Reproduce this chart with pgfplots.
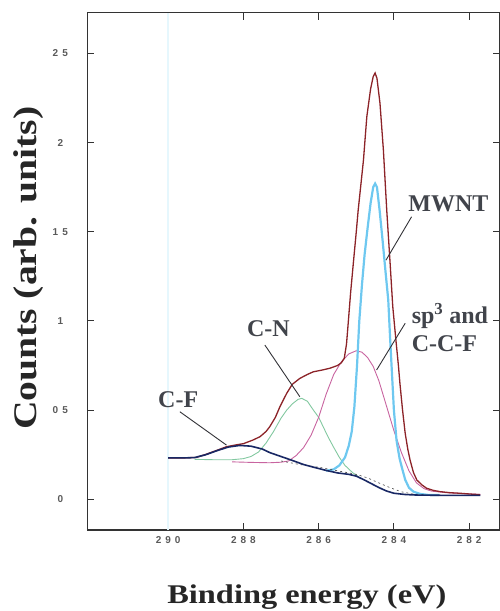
\documentclass[border=0pt]{standalone}
\usepackage{graphicx}
\usepackage{pgfplots}
\pgfplotsset{compat=1.18}
\usepackage{fontspec}
\setmainfont{Liberation Serif}
\setsansfont{Liberation Sans}
\definecolor{envc}{RGB}{140,35,40}
\definecolor{cyanc}{RGB}{110,200,240}
\definecolor{purc}{RGB}{200,100,160}
\definecolor{grnc}{RGB}{130,200,160}
\definecolor{cfc}{RGB}{25,40,100}
\definecolor{annc}{RGB}{65,68,75}
\definecolor{leadc}{RGB}{50,50,55}
\definecolor{tickc}{RGB}{90,90,90}
\begin{document}
\begin{tikzpicture}
\begin{axis}[
  at={(0,0)}, anchor=south west,
  width=412.7pt, height=517.3pt, scale only axis,
  x dir=reverse,
  xmin=281.18, xmax=292.15, ymin=-0.172, ymax=2.728,
  xtick={282,284,286,288,290},
  xticklabels={2\hspace{4pt}8\hspace{4pt}2,2\hspace{4pt}8\hspace{4pt}4,2\hspace{4pt}8\hspace{4pt}6,2\hspace{4pt}8\hspace{4pt}8,2\hspace{4pt}9\hspace{4pt}0},
  ytick={0,0.5,1,1.5,2,2.5},
  yticklabels={0,0\hspace{4pt}5,1,1\hspace{4pt}5,2,2\hspace{4pt}5},
  tick align=inside, tick pos=both,
  major tick length=7pt,
  tick style={color=black!80, line width=0.9pt},
  axis line style={color=black!80, line width=1.1pt},
  ticklabel style={font=\fontsize{10}{12}\sffamily\bfseries, text=tickc},
  xticklabel style={yshift=-2.7pt},
  yticklabel style={anchor=center, xshift=-27pt},
  xlabel={\scalebox{1.2}[1]{\fontsize{27}{30}\selectfont\bfseries Binding energy (eV)}},
  ylabel={\scalebox{1.2}[1]{\fontsize{33}{36}\selectfont\bfseries Counts (arb. units)}},
  xlabel style={at={(axis description cs:0.532,0)}, anchor=base, yshift=-73pt, text=black!85},
  ylabel style={at={(axis description cs:-0.143,0.506)}, anchor=center, text=black!85},
  clip=false,
]
\draw[cyan!10, line width=1.5pt] (axis cs:290,-0.172) -- (axis cs:290,2.728);

% C-N component
\addplot[grnc, line width=0.9pt] coordinates {
(289.3,0.224) (288.8,0.222) (288.3,0.222) (288.0,0.228) (287.8,0.24) (287.6,0.265)
(287.4,0.315) (287.2,0.38) (287.0,0.455) (286.85,0.50) (286.7,0.535) (286.55,0.56)
(286.45,0.566) (286.3,0.55) (286.14,0.50) (286.0,0.46) (285.88,0.407) (285.75,0.35)
(285.61,0.295) (285.45,0.235) (285.3,0.19) (285.1,0.15) (284.9,0.12)};

% sp3 and C-C-F component
\addplot[purc, line width=0.9pt] coordinates {
(288.3,0.21) (287.8,0.207) (287.3,0.205) (287.0,0.208) (286.8,0.215) (286.6,0.245)
(286.4,0.29) (286.2,0.36) (286.0,0.46) (285.8,0.59) (285.6,0.70) (285.4,0.77)
(285.2,0.815) (285.0,0.833) (284.85,0.825) (284.7,0.795) (284.55,0.745) (284.4,0.665)
(284.2,0.525) (284.0,0.385) (283.8,0.262) (283.6,0.16) (283.4,0.092) (283.2,0.06)
(283.0,0.046) (282.6,0.037) (282.0,0.03) (281.7,0.028)};

% MWNT component
\addplot[cyanc, line width=2.2pt] coordinates {
(285.8,0.16) (285.6,0.168) (285.45,0.19) (285.3,0.235) (285.2,0.3) (285.12,0.38)
(285.05,0.52) (284.98,0.75) (284.92,1.0) (284.85,1.2) (284.78,1.37) (284.7,1.52)
(284.62,1.66) (284.55,1.75) (284.5,1.77) (284.45,1.75) (284.38,1.62) (284.3,1.45)
(284.22,1.27) (284.15,1.117) (284.1,0.9) (284.05,0.7) (284.0,0.5) (283.93,0.33)
(283.85,0.23) (283.79,0.18) (283.7,0.11) (283.6,0.065) (283.48,0.043) (283.3,0.03)
(283.1,0.025) (282.8,0.024)};

% envelope
\addplot[envc, line width=1.3pt] coordinates {
(290.0,0.232) (289.6,0.232) (289.25,0.235) (289.0,0.252) (288.7,0.275) (288.45,0.295)
(288.2,0.305) (288.0,0.312) (287.75,0.332) (287.56,0.351) (287.4,0.38) (287.3,0.407)
(287.15,0.46) (287.03,0.519) (286.85,0.594) (286.7,0.645) (286.5,0.678) (286.3,0.70)
(286.14,0.715) (285.9,0.725) (285.7,0.735) (285.5,0.75) (285.4,0.765) (285.32,0.79)
(285.26,0.87) (285.21,1.0) (285.15,1.16) (285.08,1.32) (285.0,1.5) (284.95,1.62)
(284.88,1.76) (284.81,1.90) (284.72,2.145) (284.62,2.30) (284.55,2.37) (284.5,2.39)
(284.45,2.36) (284.37,2.22) (284.28,1.96) (284.19,1.62) (284.1,1.32) (284.03,1.08)
(283.95,0.9) (283.88,0.75) (283.84,0.65) (283.77,0.50) (283.7,0.37) (283.63,0.28)
(283.57,0.22) (283.48,0.15) (283.39,0.108) (283.25,0.08) (283.13,0.062) (282.95,0.05)
(282.77,0.043) (282.5,0.037) (282.24,0.034) (282.0,0.03) (281.71,0.026)};

% background scatter (dashed)
\addplot[black!75, line width=0.6pt, dash pattern=on 2pt off 3pt] coordinates {
(287.0,0.215) (286.5,0.195) (286.0,0.18) (285.5,0.16) (285.0,0.14) (284.7,0.12)
(284.4,0.092) (284.1,0.065) (283.8,0.042) (283.5,0.03) (283.2,0.027)};

% C-F component plus background
\addplot[cfc, line width=1.6pt] coordinates {
(290.0,0.232) (289.6,0.232) (289.3,0.234) (289.0,0.25) (288.7,0.273) (288.4,0.293)
(288.1,0.302) (287.8,0.298) (287.5,0.282) (287.3,0.262) (287.0,0.24) (286.7,0.218)
(286.4,0.195) (286.1,0.178) (285.8,0.162) (285.5,0.148) (285.2,0.14) (285.0,0.13)
(284.8,0.11) (284.6,0.088) (284.4,0.066) (284.2,0.047) (284.0,0.034) (283.7,0.027)
(283.4,0.024) (283.0,0.023) (282.5,0.022) (282.0,0.022) (281.7,0.022)};

% leader lines
\draw[leadc, line width=0.9pt] (axis cs:283.53,1.584) -- (axis cs:284.21,1.341);
\draw[leadc, line width=0.9pt] (axis cs:283.70,0.987) -- (axis cs:284.46,0.725);
\draw[leadc, line width=0.9pt] (axis cs:287.43,0.865) -- (axis cs:286.50,0.575);
\draw[leadc, line width=0.9pt] (axis cs:289.69,0.491) -- (axis cs:288.45,0.304);

% labels
\node[anchor=base west, inner sep=0pt, text=annc, font=\fontsize{24}{26}\selectfont\bfseries] at (axis cs:283.62,1.612) {MWNT};
\node[anchor=base west, inner sep=0pt, text=annc, font=\fontsize{24}{26}\selectfont\bfseries] at (axis cs:283.53,0.983) {sp$^{\mathbf{3}}$ and};
\node[anchor=base west, inner sep=0pt, text=annc, font=\fontsize{24}{26}\selectfont\bfseries] at (axis cs:283.53,0.826) {C-C-F};
\node[anchor=base west, inner sep=0pt, text=annc, font=\fontsize{24}{26}\selectfont\bfseries] at (axis cs:287.91,0.915) {C-N};
\node[anchor=base west, inner sep=0pt, text=annc, font=\fontsize{24}{26}\selectfont\bfseries] at (axis cs:290.27,0.514) {C-F};
\end{axis}
\pgfresetboundingbox
\path (-87.3pt,-81pt) rectangle (412.7pt,530pt);
\end{tikzpicture}
\end{document}
